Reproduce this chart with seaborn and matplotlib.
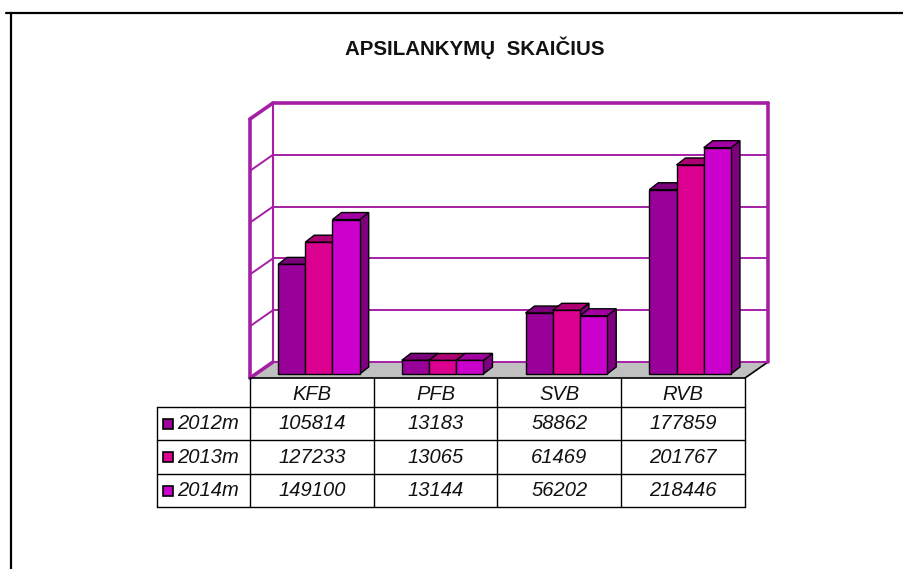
import numpy as np
import pandas as pd
import matplotlib
matplotlib.use('Agg')
import matplotlib.pyplot as plt
from matplotlib.patches import Polygon, Rectangle
from matplotlib.lines import Line2D
import seaborn as sns

categories = ['KFB', 'PFB', 'SVB', 'RVB']
years = ['2012m', '2013m', '2014m']
v2012 = [105814, 13183, 58862, 177859]
v2013 = [127233, 13065, 61469, 201767]
v2014 = [149100, 13144, 56202, 218446]
values = [v2012, v2013, v2014]

front_colors = ['#990099', '#DB0090', '#CC00CC']
top_colors = ['#7A007A', '#AD0072', '#A300A3']
side_color = '#7E007E'
wall_color = '#A51FA5'

df = pd.DataFrame({'cat': categories * 3,
                   'year': np.repeat(years, 4),
                   'val': v2012 + v2013 + v2014})

sns.set_style('white')
plt.rcParams['font.family'] = ['Liberation Sans', 'DejaVu Sans']

W, H = 904, 569
fig = plt.figure(figsize=(W / 100, H / 100), dpi=100)
ax = fig.add_axes([250 / W, (H - 378) / H, 495 / W, 259 / H])
sns.barplot(data=df, x='cat', y='val', hue='year', palette=front_colors,
            saturation=1, width=0.66, edgecolor='black', linewidth=1,
            legend=False, ax=ax)
ax.set_xlim(-0.5, 3.5)
ax.set_ylim(0, 250000)
ax.axis('off')

# pixel -> data units
ux = 4 / 495
uy = 250000 / 259
wx, wy = 23 * ux, 16 * uy      # wall depth
bx, by = 9 * ux, 7 * uy        # bar depth
sx, sy = 7 * ux, 4 * uy        # bars sit a bit back on the floor

# floor
floor = Polygon([(-0.5, 0), (3.5, 0), (3.5 + wx, wy), (-0.5 + wx, wy)],
                closed=True, facecolor='#C0C0C0', edgecolor='none',
                zorder=0.2, clip_on=False)
ax.add_patch(floor)
ax.plot([3.5, 3.5 + wx], [0, wy], color='black', lw=1.2, zorder=0.3, clip_on=False)

# back wall and left wall grid
for t in range(0, 250001, 50000):
    lw = 2.6 if t == 250000 else 1.4
    ax.plot([-0.5 + wx, 3.5 + wx], [t + wy, t + wy], color=wall_color, lw=lw,
            zorder=0.4, clip_on=False)
    ax.plot([-0.5, -0.5 + wx], [t, t + wy], color=wall_color,
            lw=2.6 if t in (0, 250000) else 1.4, zorder=0.4, clip_on=False)
ax.plot([3.5 + wx, 3.5 + wx], [wy, 250000 + wy], color=wall_color, lw=2.6,
        zorder=0.4, clip_on=False)
ax.plot([-0.5 + wx, -0.5 + wx], [wy, 250000 + wy], color=wall_color, lw=1.5,
        zorder=0.4, clip_on=False)
ax.plot([-0.5, -0.5], [0, 250000], color=wall_color, lw=2.6,
        zorder=0.4, clip_on=False)

# 3d bars
for hi, cont in enumerate(ax.containers):
    for p in cont.patches:
        x0 = p.get_x() + sx
        w = p.get_width()
        h = p.get_height()
        p.set_x(x0)
        p.set_y(sy)
        p.set_zorder(3)
        p.set_clip_on(False)
        top = h + sy
        side = Polygon([(x0 + w, sy), (x0 + w, top), (x0 + w + bx, top + by),
                        (x0 + w + bx, sy + by)], closed=True,
                       facecolor=side_color, edgecolor='black', lw=1,
                       zorder=1, clip_on=False)
        roof = Polygon([(x0, top), (x0 + w, top), (x0 + w + bx, top + by),
                        (x0 + bx, top + by)], closed=True,
                       facecolor=top_colors[hi], edgecolor='black', lw=1,
                       zorder=2, clip_on=False)
        ax.add_patch(side)
        ax.add_patch(roof)

# data table below the floor
tax = fig.add_axes([0, 0, 1, 1])
tax.set_xlim(0, W)
tax.set_ylim(H, 0)
tax.axis('off')

col_x = [ax.transData.transform((c, 0))[0] for c in np.arange(-0.5, 4, 1)]
left_x = 157
row_y = [378, 407, 440, 474, 507]
lc = 'black'
tax.plot([col_x[0], col_x[-1]], [row_y[0], row_y[0]], color=lc, lw=1.2)
for y in row_y[1:]:
    tax.plot([left_x, col_x[-1]], [y, y], color=lc, lw=1)
for x in col_x:
    tax.plot([x, x], [row_y[0], row_y[-1]], color=lc, lw=1)
tax.plot([left_x, left_x], [row_y[1], row_y[-1]], color=lc, lw=1)

fs = 14.5
tc = '#111111'
for ci, cat in enumerate(categories):
    cx = (col_x[ci] + col_x[ci + 1]) / 2
    tax.text(cx, (row_y[0] + row_y[1]) / 2 + 2, cat, ha='center', va='center',
             fontsize=fs, style='italic', color=tc)
    for ri in range(3):
        cy = (row_y[ri + 1] + row_y[ri + 2]) / 2
        tax.text(cx, cy, str(values[ri][ci]), ha='center', va='center',
                 fontsize=fs, style='italic', color=tc)

for ri, yr in enumerate(years):
    cy = (row_y[ri + 1] + row_y[ri + 2]) / 2
    tax.add_patch(Rectangle((163, cy - 5), 10, 10, facecolor=front_colors[ri],
                            edgecolor='black', lw=1.2))
    tax.text(177, cy, yr, ha='left', va='center', fontsize=fs, style='italic',
             color=tc)

# title
fig.text(475 / W, 1 - 48 / H, 'APSILANKYMŲ  SKAIČIUS', ha='center', va='center',
         fontsize=14.8, fontweight='bold', color='#111111')

# chart area frame (top and left edges visible)
fig.add_artist(Line2D([6 / W, 1], [1 - 12.5 / H, 1 - 12.5 / H], color='black', lw=1.6))
fig.add_artist(Line2D([11 / W, 11 / W], [1 - 12.5 / H, 0], color='black', lw=1.6))

fig.savefig('out.png', dpi=100)
